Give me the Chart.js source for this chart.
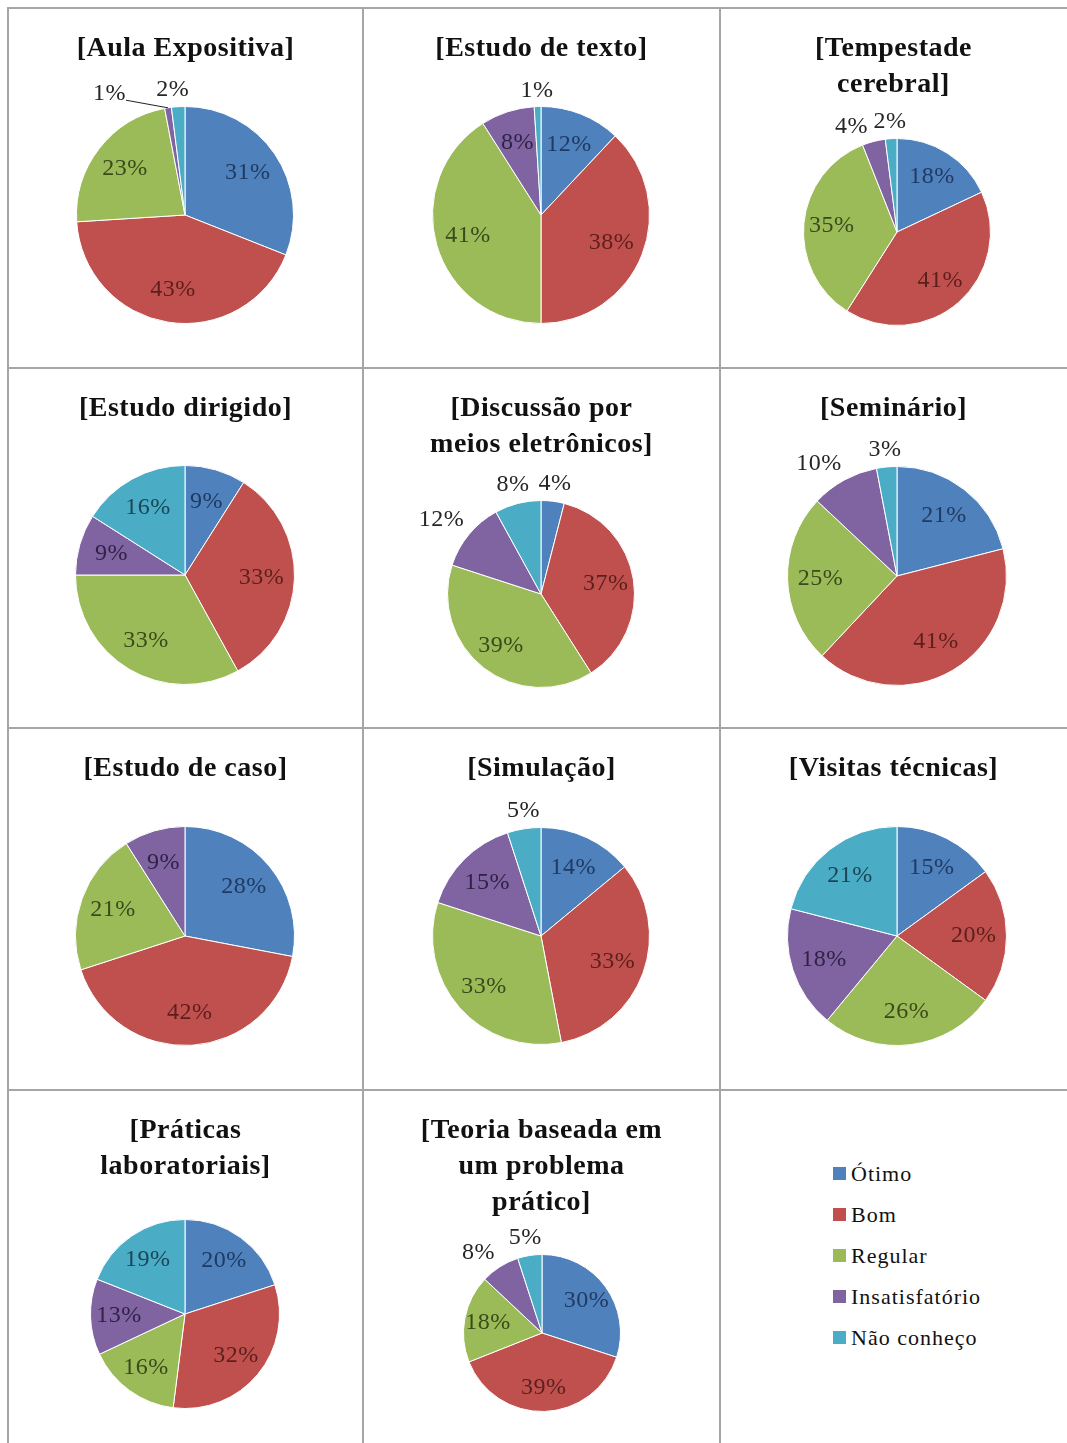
<!DOCTYPE html>
<html lang="pt">
<head>
<meta charset="utf-8">
<title>Avaliação das metodologias de ensino</title>
<script src="https://cdn.jsdelivr.net/npm/chart.js@4.4.0/dist/chart.umd.min.js"></script>
<style>
  body { margin: 0; background: #fff; }
  #page { position: relative; width: 1067px; height: 1443px; overflow: hidden; font-family: "Liberation Serif", "Times New Roman", serif; }
  .cell { position: absolute; }
  .cell canvas { position: absolute; left: 0; top: 0; }
  .title { position: absolute; left: 0; right: 0; top: 21px; text-align: center; font-weight: bold; font-size: 28px; line-height: 36px; letter-spacing: 0.5px; color: #111; }
  .hline, .vline { position: absolute; background: #a6a6a6; }
  .hline { height: 2px; left: 7px; right: 0; }
  .vline { width: 2px; top: 7px; bottom: 0; }
  .legend { position: absolute; left: 113px; top: 83px; }
  .legend div { height: 41px; font-size: 22px; letter-spacing: 1px; color: #111; display: flex; align-items: center; position: relative; top: -20px; }
  .legend span { display: inline-block; width: 13px; height: 13px; margin-right: 5px; }
</style>
</head>
<body>
<div id="page"></div>
<script>
// categorias e valores (%) de cada metodologia
const categorias = ['Ótimo', 'Bom', 'Regular', 'Insatisfatório', 'Não conheço'];
const aulaExpositiva = [31, 43, 23, 1, 2];
const estudoTexto = [12, 38, 41, 8, 1];
const tempestadeCerebral = [18, 41, 35, 4, 2];
const estudoDirigido = [9, 33, 33, 9, 16];
const discussaoEletronica = [4, 37, 39, 12, 8];
const seminario = [21, 41, 25, 10, 3];
const estudoCaso = [28, 42, 21, 9, 0];
const simulacao = [14, 33, 33, 15, 5];
const visitasTecnicas = [15, 20, 26, 18, 21];
const praticasLab = [20, 32, 16, 13, 19];
const teoriaProblema = [30, 39, 18, 8, 5];

const titulos = [
  ['[Aula Expositiva]'],
  ['[Estudo de texto]'],
  ['[Tempestade', 'cerebral]'],
  ['[Estudo dirigido]'],
  ['[Discussão por', 'meios eletrônicos]'],
  ['[Seminário]'],
  ['[Estudo de caso]'],
  ['[Simulação]'],
  ['[Visitas técnicas]'],
  ['[Práticas', 'laboratoriais]'],
  ['[Teoria baseada em', 'um problema', 'prático]']
];
const series = [aulaExpositiva, estudoTexto, tempestadeCerebral, estudoDirigido, discussaoEletronica,
  seminario, estudoCaso, simulacao, visitasTecnicas, praticasLab, teoriaProblema];

// estilo
const cores = ['#4F81BD', '#C0504D', '#9BBB59', '#8064A2', '#4BACC6'];
const coresRotulo = ['#1F3A63', '#5B1F1E', '#3A4A1A', '#2E2346', '#1B4656'];

// grade da tabela
const colX = [8, 363, 720], colW = [355, 357, 347];
const rowY = [8, 368, 728, 1090], rowH = [360, 360, 362, 353];

// centro e raio de cada pizza (coordenadas da página)
const geom = [
  [185, 215, 109], [541, 215, 109], [897, 232, 94],
  [185, 575, 110], [541, 594, 94], [897, 576, 110],
  [185, 936, 110], [541, 936, 109], [897, 936, 110],
  [185, 1314, 95], [542, 1333, 79]
];

// rótulos fora da fatia: índice -> ajuste de ângulo (graus), distância extra, linha guia
const fora = [
  {3: {a: -23, d: 11, guia: true}, 4: {a: -2}},
  {4: {}},
  {3: {a: -9}, 4: {}},
  {},
  {0: {}, 3: {a: -3}, 4: {}},
  {3: {a: -6}, 4: {}},
  {},
  {4: {a: 1}},
  {},
  {},
  {3: {a: -6}, 4: {a: -1}}
];

const rotulos = {
  id: 'rotulos',
  afterDatasetsDraw(chart, args, opts) {
    const ctx = chart.ctx;
    const dados = chart.data.datasets[0].data;
    const ext = opts.fora || {};
    ctx.save();
    ctx.font = '24px "Liberation Serif", "Times New Roman", serif';
    ctx.letterSpacing = '0.5px';
    ctx.textAlign = 'center';
    ctx.textBaseline = 'middle';
    chart.getDatasetMeta(0).data.forEach((arc, i) => {
      const v = dados[i];
      if (!v) return;
      const p = arc.getProps(['x', 'y', 'startAngle', 'endAngle', 'outerRadius'], true);
      const meio = (p.startAngle + p.endAngle) / 2;
      const txt = v + '%';
      const w = ctx.measureText(txt).width;
      if (ext[i]) {
        const e = ext[i];
        const a = meio + (e.a || 0) * Math.PI / 180;
        const dist = p.outerRadius + 7 + 0.5 * w * Math.abs(Math.cos(a)) + 8.5 * Math.abs(Math.sin(a)) + (e.d || 0);
        const lx = p.x + dist * Math.cos(a), ly = p.y + dist * Math.sin(a);
        if (e.guia) {
          ctx.strokeStyle = '#222';
          ctx.lineWidth = 1;
          ctx.beginPath();
          ctx.moveTo(lx + w / 2, ly + 6);
          ctx.lineTo(p.x + p.outerRadius * Math.cos(meio), p.y + p.outerRadius * Math.sin(meio));
          ctx.stroke();
        }
        ctx.fillStyle = '#262626';
        ctx.fillText(txt, lx, ly);
      } else {
        const r = p.outerRadius * 0.7;
        ctx.fillStyle = coresRotulo[i];
        ctx.fillText(txt, p.x + r * Math.cos(meio), p.y + r * Math.sin(meio));
      }
    });
    ctx.restore();
  }
};

const page = document.getElementById('page');

// linhas da tabela
rowY.forEach(y => {
  const l = document.createElement('div');
  l.className = 'hline';
  l.style.top = (y - 1) + 'px';
  page.appendChild(l);
});
colX.forEach(x => {
  const l = document.createElement('div');
  l.className = 'vline';
  l.style.left = (x - 1) + 'px';
  page.appendChild(l);
});

function celula(k) {
  const c = k % 3, r = Math.floor(k / 3);
  const div = document.createElement('div');
  div.className = 'cell';
  div.style.left = colX[c] + 'px';
  div.style.top = rowY[r] + 'px';
  div.style.width = colW[c] + 'px';
  div.style.height = rowH[r] + 'px';
  page.appendChild(div);
  return {div, x: colX[c], y: rowY[r], w: colW[c], h: rowH[r]};
}

series.forEach((dados, k) => {
  const cel = celula(k);
  const canvas = document.createElement('canvas');
  canvas.width = cel.w;
  canvas.height = cel.h;
  cel.div.appendChild(canvas);
  const t = document.createElement('div');
  t.className = 'title';
  t.innerHTML = titulos[k].join('<br>');
  cel.div.appendChild(t);

  const [cx, cy, r] = geom[k];
  new Chart(canvas, {
    type: 'pie',
    data: {
      labels: categorias,
      datasets: [{ data: dados, backgroundColor: cores, borderColor: '#fff', borderWidth: 1 }]
    },
    options: {
      responsive: false,
      animation: false,
      layout: { padding: { left: cx - r - cel.x, top: cy - r - cel.y, right: cel.x + cel.w - cx - r, bottom: cel.y + cel.h - cy - r } },
      plugins: {
        legend: { display: false },
        title: { display: false },
        tooltip: { enabled: false },
        rotulos: { fora: fora[k] }
      }
    },
    plugins: [rotulos]
  });
});

// legenda na última célula
const celLeg = celula(11);
const leg = document.createElement('div');
leg.className = 'legend';
categorias.forEach((nome, i) => {
  const item = document.createElement('div');
  item.innerHTML = '<span style="background:' + cores[i] + '"></span>' + nome;
  leg.appendChild(item);
});
celLeg.div.appendChild(leg);
</script>
</body>
</html>
